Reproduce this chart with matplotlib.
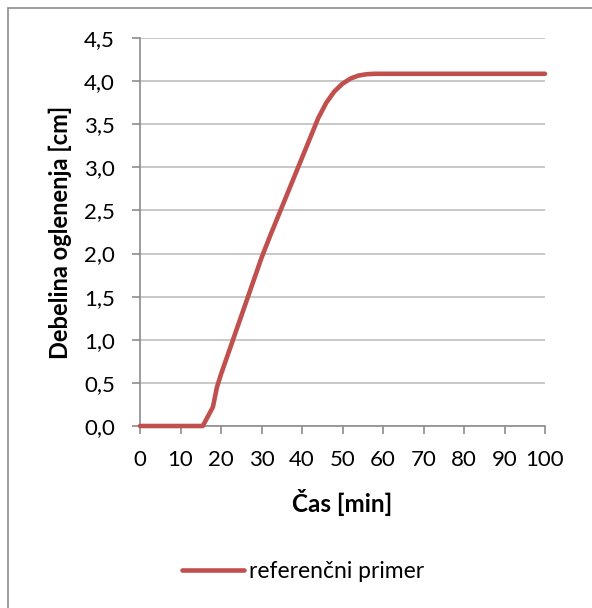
import numpy as np
from matplotlib import pyplot as plt
from matplotlib.patches import Rectangle

# debelina oglenenja skozi cas - referencni primer
cas = [0, 15.5, 18, 19, 20, 22, 24, 26, 28, 30, 32, 34, 36, 38, 40, 42, 44,
       46, 48, 50, 52, 54, 56, 58, 100]
debelina = [0, 0, 0.22, 0.45, 0.6, 0.87, 1.14, 1.41, 1.68, 1.95, 2.19, 2.42,
            2.65, 2.88, 3.11, 3.34, 3.57, 3.75, 3.88, 3.97, 4.03, 4.065, 4.08,
            4.085, 4.085]
y_ticks = [0.0, 0.5, 1.0, 1.5, 2.0, 2.5, 3.0, 3.5, 4.0, 4.5]
x_ticks = list(range(0, 101, 10))

plt.rcParams['font.family'] = ['Lato', 'DejaVu Sans']

fig = plt.figure(figsize=(5.92, 6.08), dpi=100)
# okvir grafa
fig.patches.append(Rectangle((8 / 592, -0.1), 1.2, 1 - 8 / 608 + 0.1,
                             transform=fig.transFigure, fill=False,
                             edgecolor='#8c8c8c', linewidth=1.2))

ax = fig.add_axes([140 / 592, 1 - 426 / 608, 405 / 592, 388 / 608])
ax.plot(cas, debelina, color='#c0504d', linewidth=3.3,
        solid_capstyle='round', solid_joinstyle='round',
        label='referenčni primer', clip_on=False, zorder=3)

ax.set_xlim(0, 100)
ax.set_ylim(0, 4.5)
ax.set_xticks(x_ticks)
ax.set_yticks(y_ticks)
ax.set_yticklabels([f"{v:.1f}".replace('.', ',') for v in y_ticks])
ax.grid(axis='y', color='#bfbfbf', linewidth=1.2)
ax.set_axisbelow(True)

for s in ['top', 'right']:
    ax.spines[s].set_visible(False)
for s in ['left', 'bottom']:
    ax.spines[s].set_color('#8c8c8c')
    ax.spines[s].set_linewidth(1.2)
ax.tick_params(axis='both', colors='#8c8c8c', length=6, width=1.2,
               labelcolor='black', labelsize=16)
ax.tick_params(axis='x', pad=11)
ax.tick_params(axis='y', pad=12)

ax.set_xlabel('Čas [min]', fontsize=17.5, fontweight='bold', va='center')
ax.xaxis.set_label_coords(0.5, (426 - 502) / 388)
ax.set_ylabel('Debelina oglenenja [cm]', fontsize=17, fontweight='bold',
              va='center')
ax.yaxis.set_label_coords((60 - 140) / 405, 0.5)

fig.legend(loc='center', bbox_to_anchor=(303 / 592, 1 - 572 / 608),
           frameon=False, fontsize=16.5, handlelength=2.7, handletextpad=0.2)

plt.savefig('out.png', dpi=100)
